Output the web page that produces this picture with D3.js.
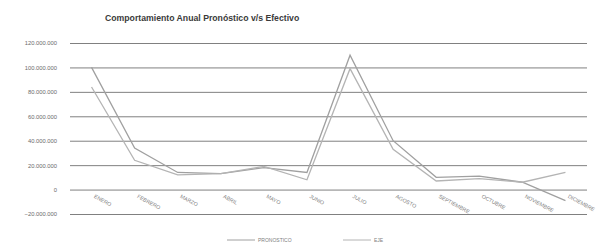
<!DOCTYPE html>
<html>
<head>
<meta charset="utf-8">
<script src="https://cdn.jsdelivr.net/npm/d3@7"></script>
<style>
  body { margin: 0; background: #fff; }
  text { font-family: "Liberation Sans", Arial, sans-serif; }
</style>
</head>
<body>
<div id="chart"></div>
<script>

// chart data
var meses = ["ENERO", "FEBRERO", "MARZO", "ABRIL", "MAYO", "JUNIO", "JULIO",
             "AGOSTO", "SEPTIEMBRE", "OCTUBRE", "NOVIEMBRE", "DICIEMBRE"];
var pronostico = [100000000, 34000000, 14000000, 13000000, 18000000, 14000000,
                  110000000, 40000000, 10000000, 11000000, 6000000, -9000000];
var ejecutado = [84000000, 24000000, 12000000, 13000000, 19000000, 8000000,
                 99000000, 33000000, 7000000, 9000000, 6000000, 14000000];
var yTicks = [-20000000, 0, 20000000, 40000000, 60000000, 80000000, 100000000, 120000000];
var serieNames = ["PRONOSTICO", "EJE"];

var svgWidth = 599;
var svgHeight = 251;

// plot area
var margin = { left: 70, top: 43, right: 12, bottom: 37 };
var chartWidth = svgWidth - margin.left - margin.right;
var chartHeight = svgHeight - margin.top - margin.bottom;

var svg = d3.select("#chart").append("svg")
    .attr("width", svgWidth)
    .attr("height", svgHeight);

var chartGroup = svg.append("g")
    .attr("transform", `translate(${margin.left}, ${margin.top})`);

var xScale = d3.scaleBand()
    .domain(meses)
    .range([0, chartWidth]);

var yScale = d3.scaleLinear()
    .domain([-20000000, 120000000])
    .range([chartHeight, 0]);

// number format with dots as thousand separator
var fmt = d3.formatLocale({ decimal: ",", thousands: ".", grouping: [3], currency: ["$", ""] }).format(",d");

// y axis with gridlines
var yAxis = d3.axisLeft(yScale)
    .tickValues(yTicks)
    .tickSize(-chartWidth)
    .tickPadding(13)
    .tickFormat(d => fmt(d));

var yAxisGroup = chartGroup.append("g").call(yAxis);
yAxisGroup.select(".domain").remove();
yAxisGroup.selectAll("line").attr("stroke", "#808080").attr("stroke-width", 1);
yAxisGroup.selectAll("text")
    .attr("fill", "#6a6a6a")
    .attr("font-size", "5.8px");

// month labels
var xAxisGroup = chartGroup.append("g")
    .attr("transform", `translate(0, ${yScale(0)})`);

xAxisGroup.selectAll("text").data(meses).enter()
    .append("text")
    .attr("transform", d => `translate(${xScale(d) + xScale.bandwidth() / 2 + 2}, 8) rotate(28)`)
    .attr("fill", "#808080")
    .attr("font-size", "5.3px")
    .text(d => d);

// lines
var line = d3.line()
    .x((d, i) => xScale(meses[i]) + xScale.bandwidth() / 2)
    .y(d => yScale(d));

var series = [pronostico, ejecutado];
var colors = ["#a0a0a0", "#b4b4b4"];

chartGroup.selectAll(".serie").data(series).enter()
    .append("path")
    .attr("class", "serie")
    .attr("fill", "none")
    .attr("stroke", (d, i) => colors[i])
    .attr("stroke-width", 1.3)
    .attr("d", d => line(d));

// title
svg.append("text")
    .attr("x", 105)
    .attr("y", 21)
    .attr("font-size", "8.7px")
    .attr("font-weight", "bold")
    .attr("fill", "#3a3a3a")
    .text("Comportamiento Anual Pronóstico v/s Efectivo");

// legend
var legendX = [227, 343];
var legend = svg.selectAll(".legend").data(serieNames).enter()
    .append("g")
    .attr("class", "legend")
    .attr("transform", (d, i) => `translate(${legendX[i]}, 240)`);

legend.append("line")
    .attr("x1", 0).attr("x2", 28)
    .attr("y1", 0).attr("y2", 0)
    .attr("stroke", (d, i) => colors[i])
    .attr("stroke-width", 1);

legend.append("text")
    .attr("x", 31)
    .attr("y", 2)
    .attr("font-size", "5px")
    .attr("fill", "#808080")
    .text(d => d);

</script>
</body>
</html>
